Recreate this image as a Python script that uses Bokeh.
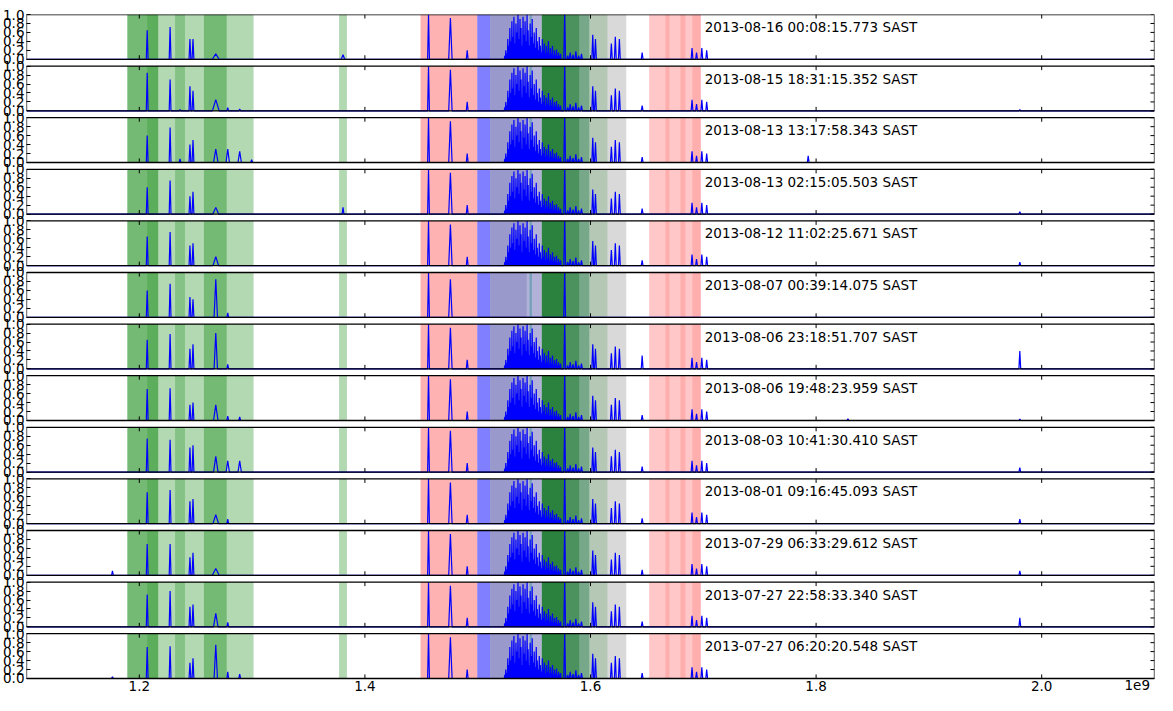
import numpy as np
from bokeh.plotting import figure
from bokeh.models import ColumnDataSource, FixedTicker, CustomJSTickFormatter
from bokeh.core.properties import value
from bokeh.embed import file_html
from bokeh.resources import INLINE

# ---------------- data ----------------
timestamps = [
    "2013-08-16 00:08:15.773 SAST",
    "2013-08-15 18:31:15.352 SAST",
    "2013-08-13 13:17:58.343 SAST",
    "2013-08-13 02:15:05.503 SAST",
    "2013-08-12 11:02:25.671 SAST",
    "2013-08-07 00:39:14.075 SAST",
    "2013-08-06 23:18:51.707 SAST",
    "2013-08-06 19:48:23.959 SAST",
    "2013-08-03 10:41:30.410 SAST",
    "2013-08-01 09:16:45.093 SAST",
    "2013-07-29 06:33:29.612 SAST",
    "2013-07-27 22:58:33.340 SAST",
    "2013-07-27 06:20:20.548 SAST",
]

# shaded frequency bands (MHz)
band_lo = [1189.4, 1189.4, 1207.0, 1231.7, 1257.3, 1377.1,
           1449.3, 1499.6, 1511.0, 1543.6, 1546.0, 1556.8, 1578.9, 1590.3,
           1556.8, 1599.1, 1599.1, 1652.0, 1666.4, 1679.7, 1690.3]
band_hi = [1301.3, 1216.7, 1216.7, 1240.5, 1277.5, 1384.1,
           1499.6, 1511.0, 1543.6, 1556.8, 1548.0, 1578.9, 1590.3, 1599.1,
           1599.1, 1615.0, 1631.7, 1697.8, 1670.0, 1684.1, 1697.8]
band_color = ["green", "green", "green", "green", "green", "green",
              "red", "blue", "navy", "navy", "teal", "green", "green", "green",
              "navy", "green", "gray", "red", "red", "red", "red"]
band_alpha = [0.3, 0.35, 0.2, 0.25, 0.35, 0.3,
              0.3, 0.5, 0.4, 0.3, 0.35, 0.8, 0.65, 0.45,
              0.15, 0.2, 0.3, 0.22, 0.12, 0.12, 0.12]

# L-band RFI peaks shared by most scans (MHz, normalised power[, half width])
lband_peaks = [
    (1456.4, 1.0), (1475.8, 0.92, 1.5), (1490.7, 0.2),
    (1524.0, 0.08, 0.4), (1524.9, 0.2, 0.4), (1525.8, 0.12, 0.4),
    (1526.7, 0.45, 0.4), (1527.6, 0.3, 0.4), (1528.5, 0.7, 0.4),
    (1529.4, 0.4, 0.4), (1530.3, 0.85, 0.4), (1531.2, 0.5, 0.4),
    (1532.1, 0.95, 0.4), (1533.0, 0.35, 0.4), (1533.9, 0.8, 0.4),
    (1534.8, 0.6, 0.4), (1535.7, 1.0, 0.4), (1536.6, 0.45, 0.4),
    (1537.5, 0.9, 0.4), (1538.4, 0.7, 0.4), (1539.3, 0.3, 0.4),
    (1540.2, 0.95, 0.4), (1541.1, 0.55, 0.4), (1542.0, 0.85, 0.4),
    (1542.9, 0.4, 0.4), (1543.8, 1.0, 0.4), (1544.7, 0.65, 0.4),
    (1545.6, 0.3, 0.4), (1546.5, 0.8, 0.4), (1547.4, 0.5, 0.4),
    (1548.3, 0.9, 0.4), (1549.2, 0.35, 0.4), (1550.1, 0.6, 0.4),
    (1551.0, 0.25, 0.4), (1551.9, 0.7, 0.4), (1552.8, 0.4, 0.4),
    (1553.7, 0.2, 0.4), (1554.6, 0.5, 0.4), (1555.5, 0.3, 0.4),
    (1556.4, 0.15, 0.4), (1557.3, 0.45, 0.4), (1558.2, 0.2, 0.4),
    (1559.1, 0.35, 0.4), (1560.0, 0.12, 0.4), (1560.9, 0.3, 0.4),
    (1561.8, 0.15, 0.4), (1562.7, 0.4, 0.4), (1563.6, 0.1, 0.4),
    (1564.5, 0.25, 0.4), (1565.4, 0.12, 0.4), (1566.3, 0.3, 0.4),
    (1567.2, 0.08, 0.4), (1568.1, 0.2, 0.4), (1569.0, 0.1, 0.4),
    (1569.9, 0.22, 0.4), (1570.8, 0.06, 0.4), (1571.7, 0.15, 0.4),
    (1572.6, 0.08, 0.4), (1573.5, 0.12, 0.4),
    (1577.1, 1.0), (1579.8, 0.08), (1582.0, 0.15),
    (1584.5, 0.1), (1587.0, 0.18), (1589.5, 0.08), (1592.0, 0.12),
    (1602.0, 0.55), (1604.4, 0.45), (1618.5, 0.35), (1622.0, 0.5),
    (1625.6, 0.45), (1690.0, 0.25), (1694.0, 0.15), (1698.7, 0.25),
    (1703.0, 0.2),
]
has_lband = [True, True, True, True, True, False, True,
             True, True, True, True, True, True]

# per-scan peaks (MHz, normalised power[, half width MHz])
scan_peaks = [
    [(1207.0, 0.65), (1227.3, 0.72), (1244.9, 0.45), (1247.6, 0.45),
     (1267.8, 0.12, 3.0), (1380.6, 0.1, 1.5), (1645.8, 0.15)],
    [(1207.0, 0.85), (1227.3, 0.7), (1236.1, 0.03), (1244.9, 0.55),
     (1247.6, 0.45), (1267.8, 0.25, 3.0), (1278.4, 0.07), (1289.0, 0.04),
     (1645.8, 0.12), (1980.6, 0.03)],
    [(1207.0, 0.6), (1227.3, 0.78), (1236.1, 0.08), (1244.9, 0.4),
     (1247.6, 0.5), (1267.8, 0.3, 2.0), (1278.4, 0.3, 1.5),
     (1289.0, 0.25, 1.5), (1299.6, 0.06), (1645.8, 0.12), (1793.0, 0.15)],
    [(1207.0, 0.6), (1227.3, 0.75), (1244.9, 0.4), (1247.6, 0.5),
     (1267.8, 0.15, 2.5), (1380.6, 0.15), (1645.8, 0.12), (1980.6, 0.05)],
    [(1207.0, 0.65), (1227.3, 0.75), (1244.9, 0.45), (1247.6, 0.5),
     (1267.8, 0.2, 2.5), (1645.8, 0.12), (1980.6, 0.08)],
    [(1207.0, 0.6), (1227.3, 0.75), (1244.9, 0.45), (1247.6, 0.4),
     (1267.8, 0.85, 1.5), (1278.4, 0.1), (1456.4, 1.0), (1475.8, 0.85, 1.5),
     (1577.1, 1.0)],
    [(1207.0, 0.65), (1227.3, 0.78), (1244.9, 0.45), (1247.6, 0.55),
     (1267.8, 0.8, 1.5), (1278.4, 0.1), (1645.8, 0.3), (1980.6, 0.4)],
    [(1207.0, 0.7), (1227.3, 0.72), (1244.9, 0.35), (1247.6, 0.4),
     (1267.8, 0.35, 2.0), (1278.4, 0.1), (1289.0, 0.08), (1645.8, 0.12),
     (1828.2, 0.04), (1980.6, 0.03)],
    [(1207.0, 0.75), (1227.3, 0.72), (1244.9, 0.55), (1247.6, 0.6),
     (1267.8, 0.35, 2.0), (1278.4, 0.25, 1.5), (1289.0, 0.25, 1.5),
     (1645.8, 0.12), (1980.6, 0.1)],
    [(1207.0, 0.7), (1227.3, 0.75), (1244.9, 0.5), (1247.6, 0.55),
     (1267.8, 0.2, 2.5), (1278.4, 0.1), (1645.8, 0.12), (1980.6, 0.1)],
    [(1176.2, 0.1), (1207.0, 0.7), (1227.3, 0.7), (1244.9, 0.4),
     (1247.6, 0.5), (1267.8, 0.15, 3.0), (1645.8, 0.12), (1980.6, 0.1)],
    [(1207.0, 0.72), (1227.3, 0.8), (1244.9, 0.45), (1247.6, 0.5),
     (1267.8, 0.3, 2.0), (1278.4, 0.1), (1645.8, 0.12), (1980.6, 0.2)],
    [(1176.2, 0.04), (1207.0, 0.7), (1227.3, 0.72), (1244.9, 0.35),
     (1247.6, 0.45), (1267.8, 0.75, 1.5), (1278.4, 0.15), (1289.0, 0.1),
     (1645.8, 0.12)],
]

x_ticks = [1.2e9, 1.4e9, 1.6e9, 1.8e9, 2.0e9]
x_tick_labels = ["1.2", "1.4", "1.6", "1.8", "2.0"]
x_offset_text = "1e9"
y_ticks = [0.0, 0.2, 0.4, 0.6, 0.8, 1.0]

# ---------------- layout ----------------
XMIN, XMAX = 1.1e9, 2.1e9
n = len(timestamps)
pitch = 1.152
bases = np.array([(n - 1 - i) * pitch for i in range(n)])
ytop = (n - 1) * pitch + 1.0
YLOW = -0.38
FONT = "DejaVu Sans"
FS = "13.5px"

p = figure(width=1157, height=695, x_range=(XMIN, XMAX), y_range=(YLOW, ytop),
           output_backend="svg", toolbar_location=None, x_axis_location=None,
           min_border_left=26, min_border_right=3, min_border_top=14,
           min_border_bottom=0)
p.grid.visible = False
p.outline_line_color = None
p.background_fill_color = "white"

# bands
bl, br, bb, bt, bc, ba = [], [], [], [], [], []
for i in range(n):
    for lo, hi, c, a in zip(band_lo, band_hi, band_color, band_alpha):
        bl.append(lo * 1e6); br.append(hi * 1e6)
        bb.append(bases[i]); bt.append(bases[i] + 1.0)
        bc.append(c); ba.append(a)
p.quad(left="l", right="r", bottom="b", top="t", fill_color="c",
       fill_alpha="a", line_color=None,
       source=ColumnDataSource(dict(l=bl, r=br, b=bb, t=bt, c=bc, a=ba)))

# spectra
xs_all, ys_all = [], []
for i in range(n):
    peaks = list(scan_peaks[i]) + (lband_peaks if has_lband[i] else [])
    xs, ys = [XMIN], [0.0]
    for pk in sorted(peaks, key=lambda q: q[0]):
        f, h = pk[0], pk[1]
        w = pk[2] if len(pk) > 2 else 0.8
        xs += [(f - w) * 1e6, f * 1e6, (f + w) * 1e6]
        ys += [0.0, h, 0.0]
    xs.append(XMAX); ys.append(0.0)
    xs_all.append(xs)
    ys_all.append(list(np.array(ys) + bases[i]))
p.multi_line(xs_all, ys_all, line_color="#0000ff", line_width=1.2)

# inward x tick marks on every panel (top & bottom)
tx0, ty0, ty1 = [], [], []
for i in range(n):
    for t in x_ticks:
        tx0 += [t, t]
        ty0 += [bases[i], bases[i] + 1.0]
        ty1 += [bases[i] + 0.09, bases[i] + 1.0 - 0.09]
p.segment(x0=tx0, y0=ty0, x1=tx0, y1=ty1, line_color="black", line_width=1)

# inward y tick marks on the right edge
yt = [b + v for b in bases for v in y_ticks]
p.segment(x0=[XMAX - 3.6e6] * len(yt), y0=yt, x1=[XMAX] * len(yt), y1=yt,
          line_color="black", line_width=1)

# panel frames
p.quad(left=[XMIN] * n, right=[XMAX] * n, bottom=list(bases),
       top=list(bases + 1.0), fill_color=None, line_color="black",
       line_width=1.3)

# timestamps
p.text(x=[1.7013e9] * n, y=list(bases + 0.72), text=timestamps,
       text_font=value(FONT), text_font_size=FS, text_color="black",
       text_baseline="middle", text_align="left")

# x tick labels and offset text (drawn in data space below last panel)
p.text(x=x_ticks, y=[-0.05] * len(x_ticks), text=x_tick_labels,
       text_font=value(FONT), text_font_size=FS, text_color="black",
       text_baseline="top", text_align="center")
p.text(x=[XMAX - 4e6], y=[YLOW + 0.12], text=[x_offset_text],
       text_font=value(FONT), text_font_size=FS, text_color="black",
       text_baseline="bottom", text_align="right")

# left y axis
yfmt = CustomJSTickFormatter(args=dict(pitch=pitch), code="""
    const k = Math.floor((tick + 1e-6) / pitch);
    let r = tick - k * pitch;
    if (r < 0) { r = 0; }
    return r.toFixed(1);
""")
for ax in p.yaxis:
    ax.ticker = FixedTicker(ticks=yt)
    ax.formatter = yfmt
    ax.major_tick_in = 4
    ax.major_tick_out = 0
    ax.minor_tick_line_color = None
    ax.axis_line_color = None
    ax.major_label_text_font = FONT
    ax.major_label_text_font_size = FS
    ax.major_label_text_color = "black"
    ax.major_label_standoff = 2

open("out.html", "w").write(file_html(p, INLINE))
